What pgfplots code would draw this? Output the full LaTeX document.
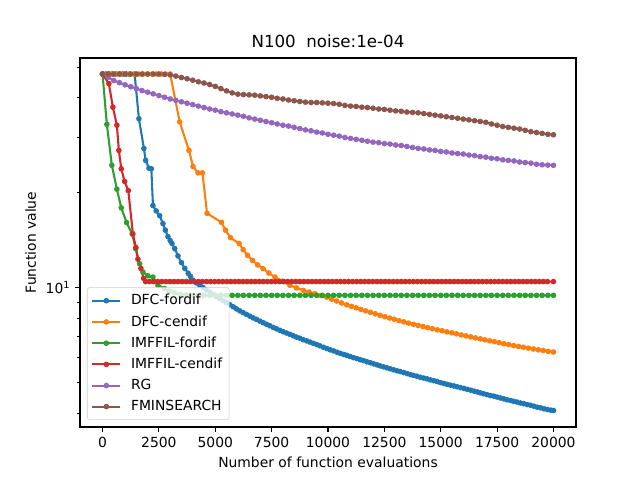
\documentclass[border=0pt]{standalone}
\usepackage{pgfplots}
\pgfplotsset{compat=1.18}
\usepackage{fontspec}
\setmainfont{DejaVu Sans}
\definecolor{c0}{HTML}{1F77B4}
\definecolor{c1}{HTML}{FF7F0E}
\definecolor{c2}{HTML}{2CA02C}
\definecolor{c3}{HTML}{D62728}
\definecolor{c4}{HTML}{9467BD}
\definecolor{c5}{HTML}{8C564B}
\begin{document}
\begin{tikzpicture}
\path[use as bounding box] (0pt,0pt) rectangle (460.8pt,345.6pt);
\begin{axis}[
  at={(57.6pt,38.16pt)}, anchor=south west,
  width=357.12pt, height=265.68pt, scale only axis,
  ymode=log,
  xmin=-1000, xmax=21000, ymin=3.617, ymax=53.4,
  xtick={0,2500,5000,7500,10000,12500,15000,17500,20000},
  scaled x ticks=false,
  ytick={10}, yticklabels={10\textsuperscript{1}},
  minor ytick={4,5,6,7,8,9,20,30,40,50},
  tick align=outside, tick pos=left,
  major tick length=3.5pt, minor tick length=2pt,
  every tick/.style={black, line width=0.8pt},
  minor tick style={black, line width=0.6pt},
  axis line style={line width=0.8pt},
  /pgf/number format/assume math mode=true,
  /pgf/number format/1000 sep={},
  /pgf/number format/fixed,
  tick label style={font=\fontsize{10}{12}\selectfont},
  label style={font=\fontsize{10}{12}\selectfont},
  title style={font=\fontsize{12}{14}\selectfont, yshift=-2pt},
  title={N100\ \ noise:1e-04},
  xlabel={Number of function evaluations},
  ylabel={Function value},
  legend cell align=left,
  legend style={at={(0.0141,0.019)}, anchor=south west,
    draw=black!20, rounded corners=2pt, fill=white, fill opacity=0.8, text opacity=1,
    font=\fontsize{10}{12}\selectfont, row sep=2.2pt, column sep=5pt, inner sep=3pt},
  legend image code/.code={\draw[mark repeat=2,mark phase=2] plot coordinates {(0pt,0pt) (10pt,0pt) (20pt,0pt)};},
  every axis plot/.append style={line width=1.5pt, mark=*, mark size=1.5pt, mark options={solid, line width=1pt}},
]
\addplot[c0] table {
x y
0 47.5
150 47.5
300 47.5
450 47.5
600 47.5
750 47.5
900 47.5
1050 47.5
1200 47.5
1422 47.5
1613 34.3
1835 27.6
1911 25.3
2058 23.9
2164 23.8
2236 18.2
2380 17.5
2533 16.9
2680 15.95
2787 15.2
2902 14.5
3000 14.1
3080 13.8
3200 13.3
3346 12.6
3500 12.0
3650 11.5
3800 11.1
3900 10.85
4013 10.55
4160 10.35
4311 10.17
4460 10.00
4610 9.83
4760 9.67
4902 9.52
5050 9.37
5200 9.23
5350 9.09
5497 8.95
5650 8.82
5800 8.69
5945 8.56
6089 8.44
6235 8.33
6380 8.23
6530 8.12
6680 8.02
6830 7.93
6980 7.83
7130 7.74
7275 7.65
7420 7.57
7570 7.48
7720 7.40
7866 7.32
8010 7.25
8160 7.18
8310 7.11
8457 7.04
8600 6.97
8750 6.91
8900 6.84
9053 6.78
9200 6.72
9350 6.66
9500 6.60
9640 6.54
9800 6.47
9950 6.41
10100 6.35
10250 6.30
10400 6.24
10550 6.19
10700 6.14
10830 6.10
10980 6.05
11130 6.00
11280 5.96
11430 5.91
11580 5.87
11730 5.82
11880 5.78
12030 5.73
12180 5.69
12310 5.65
12460 5.61
12610 5.57
12760 5.53
12910 5.49
13060 5.45
13210 5.42
13360 5.38
13510 5.34
13660 5.30
13790 5.27
13940 5.24
14090 5.20
14240 5.17
14390 5.14
14540 5.10
14690 5.07
14840 5.04
14990 5.00
15140 4.97
15275 4.94
15430 4.91
15580 4.88
15730 4.85
15880 4.82
16030 4.79
16180 4.76
16330 4.73
16480 4.70
16630 4.67
16755 4.64
16900 4.61
17050 4.58
17200 4.55
17350 4.53
17500 4.50
17650 4.47
17800 4.44
17950 4.41
18100 4.39
18235 4.36
18380 4.34
18530 4.31
18680 4.29
18830 4.26
18980 4.24
19130 4.21
19280 4.18
19430 4.16
19580 4.13
19730 4.11
19880 4.09
20000 4.08
};
\addlegendentry{DFC-fordif}
\addplot[c1] table {
x y
0 47.5
200 47.5
400 47.5
600 47.5
800 47.5
1000 47.5
1200 47.5
1400 47.5
1600 47.5
1800 47.5
2000 47.5
2200 47.5
2400 47.5
2600 47.5
2800 47.5
3000 47.5
3422 33.5
3835 27.2
4013 24.2
4235 23.1
4431 23.1
4635 17.2
5275 16.1
5453 15.2
5675 14.4
6057 13.8
6235 13.2
6430 12.66
6650 12.2
6880 11.8
7120 11.48
7380 11.12
7645 10.8
7980 10.48
8310 10.17
8600 9.98
8904 9.80
9160 9.68
9420 9.57
9680 9.44
9942 9.32
10160 9.19
10380 9.07
10600 8.94
10830 8.82
11040 8.72
11250 8.63
11460 8.53
11670 8.44
11880 8.35
12100 8.26
12310 8.17
12520 8.09
12730 8.01
12940 7.94
13150 7.86
13360 7.79
13570 7.72
13790 7.65
14000 7.59
14210 7.53
14420 7.47
14630 7.41
14850 7.35
15060 7.30
15275 7.24
15490 7.19
15700 7.14
15910 7.08
16120 7.03
16330 6.98
16540 6.93
16755 6.88
16960 6.83
17170 6.78
17380 6.74
17590 6.69
17800 6.64
18010 6.60
18235 6.55
18450 6.51
18670 6.47
18890 6.43
19110 6.39
19330 6.35
19550 6.32
19770 6.28
20000 6.25
};
\addlegendentry{DFC-cendif}
\addplot[c2] table {
x y
0 47.5
191 32.9
413 24.4
636 20.5
831 17.9
1067 16.07
1311 14.8
1467 13.3
1644 11.9
1791 11.2
2013 10.9
2235 10.8
2458 10.17
2755 9.93
2978 9.75
3200 9.62
3450 9.52
3700 9.47
4000 9.45
4250 9.45
4500 9.45
4750 9.45
5000 9.45
5250 9.45
5500 9.45
5750 9.45
6000 9.45
6250 9.45
6500 9.45
6750 9.45
7000 9.45
7250 9.45
7500 9.45
7750 9.45
8000 9.45
8250 9.45
8500 9.45
8750 9.45
9000 9.45
9250 9.45
9500 9.45
9750 9.45
10000 9.45
10250 9.45
10500 9.45
10750 9.45
11000 9.45
11250 9.45
11500 9.45
11750 9.45
12000 9.45
12250 9.45
12500 9.45
12750 9.45
13000 9.45
13250 9.45
13500 9.45
13750 9.45
14000 9.45
14250 9.45
14500 9.45
14750 9.45
15000 9.45
15250 9.45
15500 9.45
15750 9.45
16000 9.45
16250 9.45
16500 9.45
16750 9.45
17000 9.45
17250 9.45
17500 9.45
17750 9.45
18000 9.45
18250 9.45
18500 9.45
18750 9.45
19000 9.45
19250 9.45
19500 9.45
19750 9.45
20000 9.45
};
\addlegendentry{IMFFIL-fordif}
\addplot[c3] table {
x y
0 47.5
280 44.3
458 37.3
636 32.7
724 27.2
831 23.8
978 21.7
1142 20.3
1347 14.8
1480 13.4
1569 12.3
1700 11.5
1822 10.7
1910 10.45
2090 10.45
2270 10.45
2450 10.45
2630 10.45
2810 10.45
2990 10.45
3170 10.45
3350 10.45
3530 10.45
3710 10.45
3890 10.45
4070 10.45
4250 10.45
4430 10.45
4610 10.45
4790 10.45
4970 10.45
5150 10.45
5330 10.45
5510 10.45
5690 10.45
5870 10.45
6050 10.45
6230 10.45
6410 10.45
6590 10.45
6770 10.45
6950 10.45
7130 10.45
7310 10.45
7490 10.45
7670 10.45
7850 10.45
8030 10.45
8210 10.45
8390 10.45
8570 10.45
8750 10.45
8930 10.45
9110 10.45
9290 10.45
9470 10.45
9650 10.45
9830 10.45
10010 10.45
10190 10.45
10370 10.45
10550 10.45
10730 10.45
10910 10.45
11090 10.45
11270 10.45
11450 10.45
11630 10.45
11810 10.45
11990 10.45
12170 10.45
12350 10.45
12530 10.45
12710 10.45
12890 10.45
13070 10.45
13250 10.45
13430 10.45
13610 10.45
13790 10.45
13970 10.45
14150 10.45
14330 10.45
14510 10.45
14690 10.45
14870 10.45
15050 10.45
15230 10.45
15410 10.45
15590 10.45
15770 10.45
15950 10.45
16130 10.45
16310 10.45
16490 10.45
16670 10.45
16850 10.45
17030 10.45
17210 10.45
17390 10.45
17570 10.45
17750 10.45
17930 10.45
18110 10.45
18290 10.45
18470 10.45
18650 10.45
18830 10.45
19010 10.45
19190 10.45
19370 10.45
19550 10.45
19730 10.45
20000 10.45
};
\addlegendentry{IMFFIL-cendif}
\addplot[c4] table {
x y
0 47.5
250 46.4
500 45.3
750 44.6
1000 43.9
1250 43.3
1500 42.7
1750 42.1
2000 41.6
2250 41.1
2500 40.6
2750 40.1
3000 39.6
3250 39.2
3500 38.8
3750 38.4
4000 38.0
4250 37.6
4500 37.2
4750 36.8
5000 36.5
5250 36.1
5500 35.8
5750 35.5
6000 35.2
6250 34.9
6500 34.5
6750 34.2
7000 33.9
7250 33.6
7500 33.3
7750 33.0
8000 32.7
8250 32.5
8500 32.2
8750 31.9
9000 31.6
9250 31.4
9500 31.1
9750 30.9
10000 30.6
10250 30.4
10500 30.2
10750 29.9
11000 29.7
11250 29.5
11500 29.3
11750 29.1
12000 28.9
12250 28.8
12500 28.6
12750 28.5
13000 28.3
13250 28.2
13500 28.0
13750 27.8
14000 27.6
14250 27.5
14500 27.3
14750 27.2
15000 27.0
15250 26.9
15500 26.7
15750 26.6
16000 26.5
16250 26.3
16500 26.2
16750 26.0
17000 25.9
17250 25.7
17500 25.6
17750 25.4
18000 25.3
18250 25.2
18500 25.0
18750 24.9
19000 24.8
19250 24.6
19500 24.5
19750 24.45
20000 24.4
};
\addlegendentry{RG}
\addplot[c5] table {
x y
0 47.5
250 47.5
500 47.5
750 47.5
1000 47.5
1250 47.5
1500 47.5
1750 47.5
2000 47.5
2250 47.5
2500 47.5
2750 47.4
3000 47.2
3250 46.8
3500 46.3
3750 45.9
4000 45.4
4250 44.9
4500 44.5
4750 44.0
5000 43.4
5250 42.7
5500 42.0
5750 41.4
6000 41.0
6250 40.9
6500 40.8
6750 40.7
7000 40.5
7250 40.3
7500 40.1
7750 39.8
8000 39.6
8250 39.3
8500 39.1
8750 38.9
9000 38.7
9250 38.6
9500 38.6
9750 38.5
10000 38.4
10250 38.3
10500 38.1
10750 37.8
11000 37.6
11250 37.5
11500 37.3
11750 37.2
12000 37.0
12250 36.8
12500 36.7
12750 36.5
13000 36.3
13250 36.2
13500 36.0
13750 35.9
14000 35.8
14250 35.6
14500 35.4
14750 35.2
15000 35.0
15250 34.8
15500 34.6
15750 34.4
16000 34.2
16250 34.0
16500 33.8
16750 33.6
17000 33.4
17250 33.0
17500 32.7
17750 32.4
18000 32.2
18250 32.0
18500 31.8
18750 31.5
19000 31.2
19250 31.0
19500 30.8
19750 30.6
20000 30.5
};
\addlegendentry{FMINSEARCH}
\end{axis}
\end{tikzpicture}
\end{document}
